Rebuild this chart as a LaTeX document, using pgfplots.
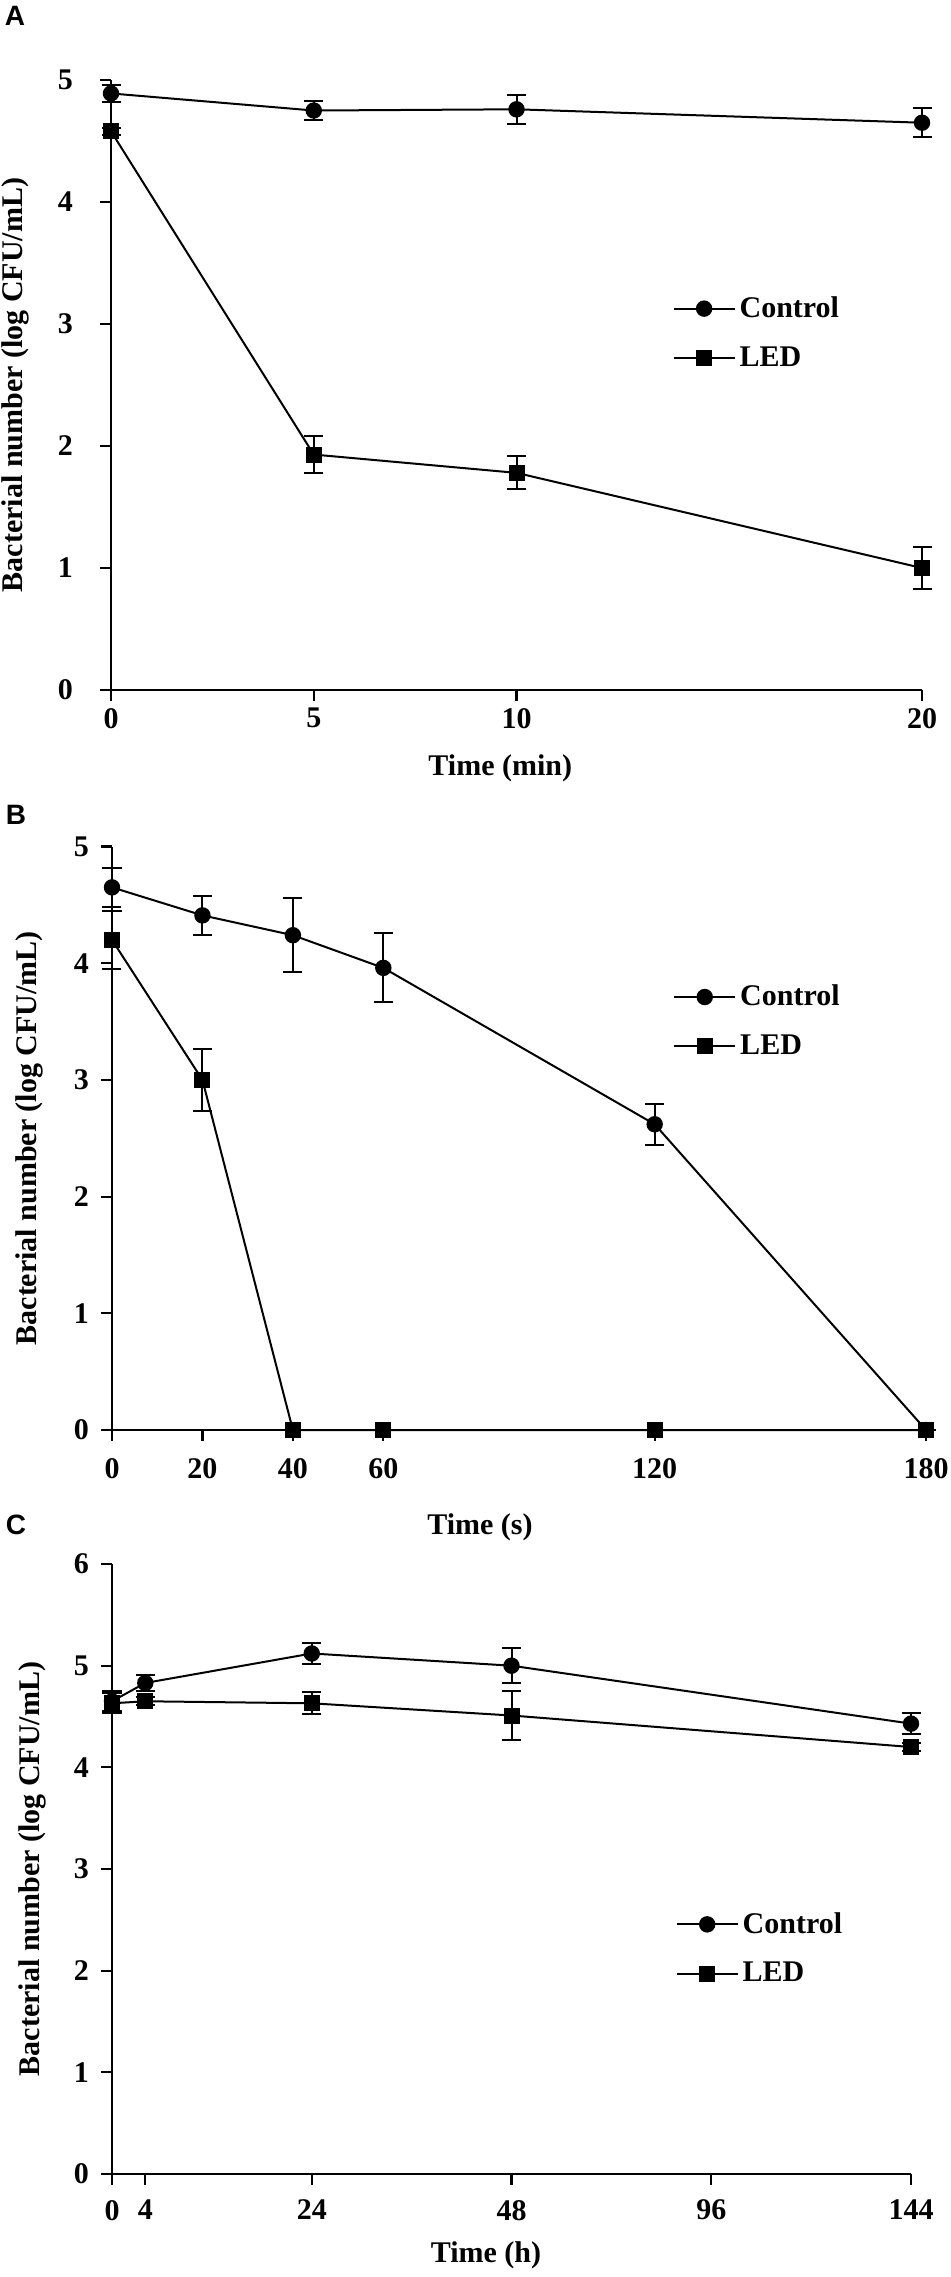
\documentclass[border=0pt]{standalone}
\usepackage{fontspec}
\setmainfont{Liberation Serif}
\newfontfamily\panelfont{Liberation Sans}
\usepackage{pgfplots}
\pgfplotsset{compat=1.18}
\newcommand{\fsz}{\fontsize{15}{18}\selectfont\bfseries}
\pgfplotsset{
  myaxis/.style={
    scale only axis,
    anchor=south west,
    axis x line*=bottom, axis y line*=left,
    axis line style={line width=1.1pt, black},
    tick style={line width=1.1pt, black},
    tick align=outside,
    major tick length=5.5pt,
    minor tick num=0,
    /pgf/number format/assume math mode=true,
    tick label style={font=\fsz},
    label style={font=\fsz},
    ymin=0, clip=false,
    enlargelimits=false,
    ylabel={Bacterial number (log CFU/mL)},
    ylabel style={anchor=center, rotate=0},
    xlabel style={anchor=center},
    yticklabel style={anchor=east},
    legend style={draw=none, fill=none, inner sep=0pt, font=\fsz, row sep=9pt, anchor=north west},
    legend cell align=left,
    legend image code/.code={\draw[mark repeat=2,mark phase=2,##1] plot coordinates {(0pt,0pt) (15.25pt,0pt) (30.5pt,0pt)};},
  },
  ser/.style={black, line width=1pt, mark options={solid, fill=black}},
  ctrl/.style={ser, mark=*, mark size=3.6pt},
  led/.style={ser, mark=square*, mark size=3.5pt},
  eb/.style={error bars/.cd, y dir=both, y explicit,
    error bar style={line width=1pt, black},
    error mark options={rotate=90, mark size=4.75pt, line width=1pt, black}},
}
\begin{document}
\begin{tikzpicture}
\path[use as bounding box] (0,0) rectangle (475pt,-1138.5pt);
\node[font=\panelfont\bfseries\fontsize{14}{16}\selectfont] at (7.5pt,-8pt) {A};
\node[font=\panelfont\bfseries\fontsize{14}{16}\selectfont] at (8pt,-407.5pt) {B};
\node[font=\panelfont\bfseries\fontsize{14}{16}\selectfont] at (8pt,-762.5pt) {C};

% Panel A
\begin{axis}[myaxis,
  at={(55.5pt,-345pt)}, width=405.5pt, height=305pt,
  xmin=0, xmax=20, ymax=5,
  xtick={0,5,10,20}, ytick={0,1,2,3,4,5},
  xlabel={Time (min)},
  xlabel style={at={(axis description cs:0.48,-0.128)}},
  ylabel style={at={(axis description cs:-0.118,0.5)}},
  yticklabel style={xshift=-10pt},
  legend style={at={(axis description cs:0.692,0.652)}},
]
\addplot+[ctrl, eb] coordinates {(0,4.89) +- (0,0.07) (5,4.75) +- (0,0.08) (10,4.76) +- (0,0.12) (20,4.65) +- (0,0.12)};
\addplot+[led, eb] coordinates {(0,4.58) +- (0,0.03) (5,1.93) +- (0,0.15) (10,1.78) +- (0,0.135) (20,1.00) +- (0,0.17)};
\legend{Control, LED}
\end{axis}

% Panel B
\begin{axis}[myaxis,
  at={(56pt,-715pt)}, width=407pt, height=291.75pt,
  xmin=0, xmax=180, ymax=5,
  xtick={0,20,40,60,120,180}, ytick={0,1,2,3,4,5},
  xlabel={Time (s)},
  xlabel style={at={(axis description cs:0.452,-0.166)}},
  ylabel style={at={(axis description cs:-0.101,0.5)}},
  yticklabel style={xshift=-2.5pt},
  xticklabel style={yshift=-5pt},
  legend style={at={(axis description cs:0.689,0.770)}},
]
\addplot+[ctrl, eb] coordinates {(0,4.65) +- (0,0.17) (20,4.41) +- (0,0.165) (40,4.24) +- (0,0.315) (60,3.96) +- (0,0.295) (120,2.62) +- (0,0.175) (180,0) +- (0,0)};
\addplot+[led, eb] coordinates {(0,4.20) +- (0,0.25) (20,3.00) +- (0,0.265) (40,0) +- (0,0) (60,0) +- (0,0) (120,0) +- (0,0) (180,0) +- (0,0)};
\legend{Control, LED}
\end{axis}

% Panel C (x positions: 0->0, 4->1/6, 24->1, 48->2, 96->3, 144->4)
\begin{axis}[myaxis,
  at={(56pt,-1087pt)}, width=399.5pt, height=305pt,
  xmin=0, xmax=4, ymax=6,
  xtick={0,0.16667,1,2,3,4}, xticklabels={0,4,24,48,96,144},
  ytick={0,1,2,3,4,5,6},
  xlabel={Time (h)},
  xlabel style={at={(axis description cs:0.468,-0.133)}},
  ylabel style={at={(axis description cs:-0.099,0.5)}},
  yticklabel style={xshift=-2.5pt},
  xticklabel style={yshift=-4pt},
  legend style={at={(axis description cs:0.705,0.436)}},
]
\addplot+[ctrl, eb] coordinates {(0,4.65) +- (0,0.1) (0.16667,4.83) +- (0,0.08) (1,5.12) +- (0,0.105) (2,5.00) +- (0,0.17) (4,4.43) +- (0,0.1)};
\addplot+[led, eb] coordinates {(0,4.63) +- (0,0.1) (0.16667,4.65) +- (0,0.04) (1,4.63) +- (0,0.11) (2,4.51) +- (0,0.24) (4,4.20) +- (0,0.04)};
\legend{Control, LED}
\end{axis}
\end{tikzpicture}
\end{document}
